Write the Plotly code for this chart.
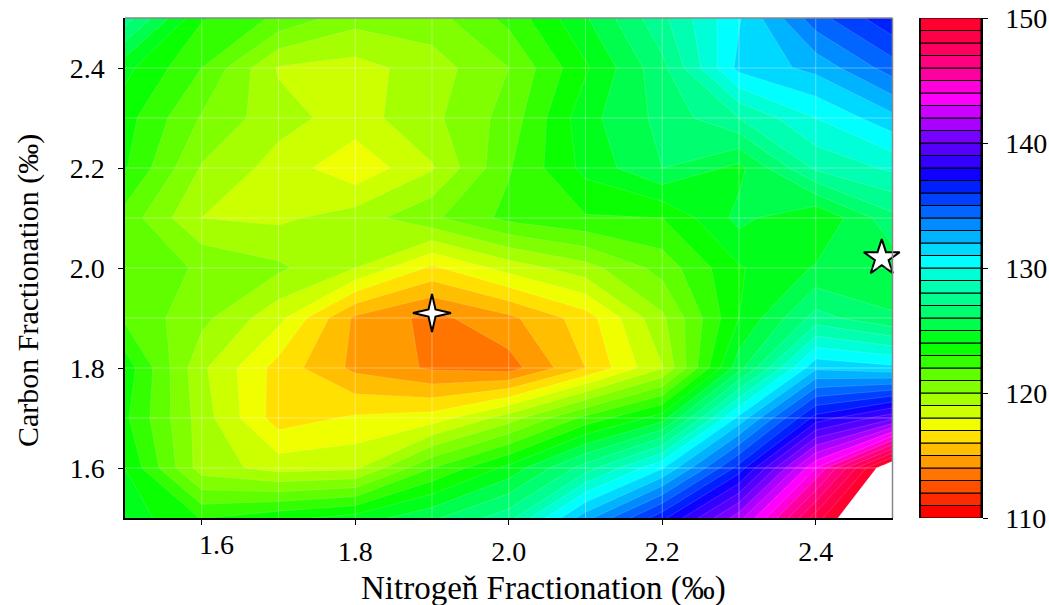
import plotly.graph_objects as go

nitrogen = [1.5, 1.6, 1.7, 1.8, 1.9, 2.0, 2.1, 2.2, 2.3, 2.4, 2.5]
carbon = [1.5, 1.6, 1.7, 1.8, 1.9, 2.0, 2.1, 2.2, 2.3, 2.4, 2.5]
row_150 = [124.6, 122.95, 123.7, 124.4, 125.8, 127.6, 132.6, 136.7, 141.6, 148.5, 153.7]
row_160 = [124.0, 119.5, 118.6, 118.8, 122.0, 124.3, 127.5, 130.9, 136.4, 144.0, 151.6]
row_170 = [123.2, 119.5, 116.5, 117.15, 117.45, 119.5, 122.3, 124.5, 131.3, 137.4, 139.7]
row_180 = [123.6, 119.2, 116.6, 114.75, 113.85, 113.55, 116.0, 118.95, 125.6, 131.8, 131.3]
row_190 = [121.8, 120.3, 118.3, 114.8, 113.7, 114.75, 116.5, 119.8, 124.0, 127.4, 126.1]
row_200 = [121.5, 120.9, 120.2, 119.0, 116.8, 118.4, 119.6, 121.4, 123.9, 125.1, 125.4]
row_210 = [121.6, 119.0, 118.8, 119.5, 120.8, 122.3, 122.9, 123.0, 125.3, 124.0, 126.7]
row_220 = [123.1, 119.9, 118.6, 117.25, 118.9, 121.9, 124.3, 126.0, 124.7, 128.2, 129.2]
row_230 = [123.4, 120.9, 119.36, 118.56, 119.75, 121.4, 124.65, 126.3, 128.0, 130.0, 131.7]
row_240 = [124.3, 122.0, 118.9, 118.6, 119.5, 121.0, 123.85, 126.7, 131.3, 132.3, 134.5]
row_250 = [127.5, 123.1, 121.8, 120.4, 120.6, 122.3, 124.9, 127.75, 130.9, 134.6, 136.8]
z_rows = [row_150, row_160, row_170, row_180, row_190, row_200, row_210, row_220, row_230, row_240, row_250]

band_colors = [
    "#ff0000", "#ff2a00", "#ff5000", "#ff7500", "#ff9a00", "#ffbf00", "#ffe000", "#f0ff00",
    "#ccff00", "#a6ff00", "#80ff00", "#5fff00", "#33ff00", "#0aff00", "#00ff1a", "#00ff4c",
    "#00ff70", "#00ff90", "#00ffb0", "#00ffd9", "#00ffff", "#00d9ff", "#00b3ff", "#008cff",
    "#0066ff", "#0040ff", "#001fff", "#0f00ff", "#3300ff", "#5500ff", "#7700ff", "#aa00ff",
    "#cc00ff", "#ff00ff", "#ff00dd", "#ff00a0", "#ff0080", "#ff0060", "#ff0048", "#ff0030",
]
levels = [110 + i for i in range(40)]
star4_x, star4_y = 1.9, 1.91
star5_x, star5_y = [2.486], [2.02]
x_ticks = [1.6, 1.8, 2.0, 2.2, 2.4]
x_ticktext = ["", "1.8", "2.0", "2.2", "2.4"]
y_ticks = [1.6, 1.8, 2.0, 2.2, 2.4]
grid_values = [1.6, 1.7, 1.8, 1.9, 2.0, 2.1, 2.2, 2.3, 2.4]
cb_ticks = [110, 120, 130, 140, 150]

FONT = "Liberation Serif"
TICK = 28
L, R, T, B = 125, 68, 18, 87
PW = 1049 - L - R
n = len(band_colors) + 1
stops = [0.0] + [(i + 0.5) / n for i in range(1, n)] + [1.0]
scale = []
for i, c in enumerate(band_colors + ["#ffffff"]):
    scale.append([stops[i], c])
    scale.append([stops[i + 1], c])

fig = go.Figure()
fig.add_trace(go.Contour(
    x=nitrogen, y=carbon, z=z_rows, colorscale=scale, showscale=False,
    autocontour=False,
    contours=dict(start=110, end=150, size=1, coloring="fill", showlines=True),
    line=dict(color="rgba(255,255,255,0.3)", width=0.5, smoothing=0),
    hoverinfo="skip",
))
fig.add_trace(go.Scatter(
    x=star5_x, y=star5_y, mode="markers", cliponaxis=False,
    marker=dict(symbol="star", size=27, color="white", line=dict(color="black", width=2)),
))
fig.add_trace(go.Bar(
    x=[0] * len(levels), y=[1] * len(levels), base=levels, width=1,
    marker=dict(color=band_colors, line=dict(color="black", width=1)),
    xaxis="x2", yaxis="y2", hoverinfo="skip",
))

for g in grid_values:
    fig.add_shape(type="line", xref="x", yref="paper", x0=g, x1=g, y0=0, y1=1,
                  line=dict(color="rgba(255,255,255,0.35)", width=1), layer="above")
    fig.add_shape(type="line", xref="x domain", yref="y", x0=0, x1=1, y0=g, y1=g,
                  line=dict(color="rgba(255,255,255,0.35)", width=1), layer="above")
# top and right frame
fig.add_shape(type="line", xref="x domain", yref="paper", x0=0, x1=1, y0=1, y1=1,
              line=dict(color="#888888", width=1.5), layer="above")
fig.add_shape(type="line", xref="x domain", yref="paper", x0=1, x1=1, y0=0, y1=1,
              line=dict(color="#888888", width=1.5), layer="above")
# thin four-point star, sized in pixels and anchored on the data point
fig.add_shape(type="path", xref="x", yref="y", xsizemode="pixel", ysizemode="pixel",
              xanchor=star4_x, yanchor=star4_y,
              path="M0,-19 L3.5,-3.5 L19,0 L3.5,3.5 L0,19 L-3.5,3.5 L-19,0 L-3.5,-3.5 Z",
              fillcolor="white", line=dict(color="black", width=2), layer="above")

fig.add_annotation(x=1.6, xref="x", y=0, yref="paper", yanchor="top", xshift=15, yshift=-9,
                   text="1.6", showarrow=False, font=dict(family=FONT, size=TICK, color="black"))
fig.add_annotation(x=(543.5 - L) / PW, xref="paper", y=-(588 - 518) / 500, yref="paper",
                   xanchor="center", yanchor="middle", text="Nitrogeň Fractionation (‰)",
                   showarrow=False, font=dict(family=FONT, size=33, color="black"))
fig.add_annotation(x=-(125 - 28) / PW, xref="paper", y=(518 - 291) / 500, yref="paper",
                   xanchor="center", yanchor="middle", textangle=-90, text="Carbon Fractionation (‰)",
                   showarrow=False, font=dict(family=FONT, size=30, color="black"))

fig.update_layout(
    width=1049, height=605, autosize=False, showlegend=False,
    margin=dict(l=L, r=R, t=T, b=B, pad=0, autoexpand=False), paper_bgcolor="white", plot_bgcolor="white",
    font=dict(family=FONT, size=TICK, color="black"),
    xaxis=dict(domain=[0, 767.5 / PW], range=[1.5, 2.5], tickmode="array", tickvals=x_ticks,
               ticktext=x_ticktext, ticks="outside", ticklen=5, tickcolor="black", showgrid=False, zeroline=False,
               showline=True, linecolor="black", linewidth=1.5, layer="above traces", ticklabelstandoff=3),
    yaxis=dict(domain=[0, 1], range=[1.5, 2.5], tickmode="array", tickvals=y_ticks,
               ticks="outside", ticklen=5, tickcolor="black", showgrid=False, zeroline=False, tickformat=".1f",
               showline=True, linecolor="black", linewidth=1.5, layer="above traces", ticklabelstandoff=8),
    xaxis2=dict(domain=[(920.5 - L) / PW, 1], range=[-0.5, 0.5], showticklabels=False, ticks="",
                showgrid=False, zeroline=False, anchor="y2", showline=False),
    yaxis2=dict(domain=[0, 1], range=[110, 150], anchor="x2", side="right", tickmode="array",
                tickvals=cb_ticks, ticks="outside", ticklen=5, tickcolor="black", showgrid=False, zeroline=False,
                showline=True, linecolor="black", linewidth=1.5, mirror=True, ticklabelstandoff=12),
)
fig.write_html("out.html", config={"displayModeBar": False},
               post_script="document.body.style.margin='0';")
